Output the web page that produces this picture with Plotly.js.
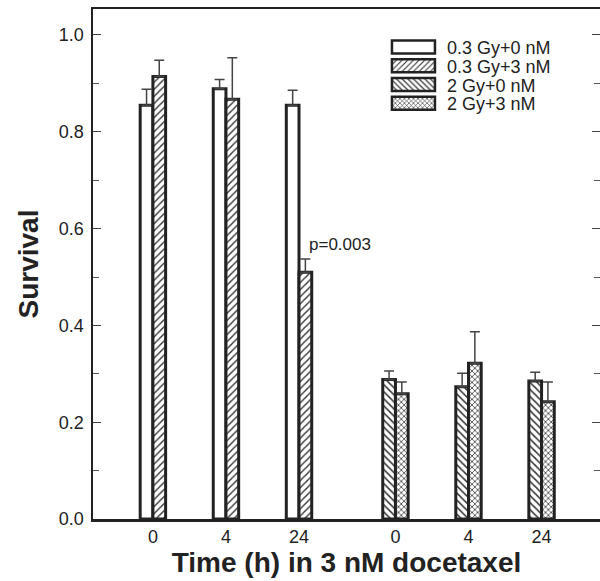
<!DOCTYPE html>
<html>
<head>
<meta charset="utf-8">
<script src="https://cdn.plot.ly/plotly-3.0.1.min.js"></script>
<style>html,body{margin:0;padding:0;background:#fff;}</style>
</head>
<body>
<div id="chart" style="width:600px;height:581px;"></div>
<script>
// Group positions on the time axis (two blocks of 0, 4, 24 h)
const groupPosA = [0, 1, 2];
const groupPosB = [3.32, 4.32, 5.32];
const tickLabels = ["0", "4", "24", "0", "4", "24"];

// Survival values and upper error bars
const s1Name = "0.3 Gy+0 nM";
const s1Vals = [0.855, 0.889, 0.855];
const s1Err  = [0.033, 0.019, 0.031];

const s2Name = "0.3 Gy+3 nM";
const s2Vals = [0.914, 0.867, 0.510];
const s2Err  = [0.034, 0.086, 0.027];

const s3Name = "2 Gy+0 nM";
const s3Vals = [0.288, 0.273, 0.285];
const s3Err  = [0.018, 0.028, 0.018];

const s4Name = "2 Gy+3 nM";
const s4Vals = [0.259, 0.322, 0.242];
const s4Err  = [0.024, 0.065, 0.041];

const barW = 0.174;
const ink = '#222';

function errY(arr){
  return {type:'data', array:arr, arrayminus:arr.map(()=>0), symmetric:false,
          visible:true, color:'#444', thickness:1.5, width:5};
}
function mk(name, x, y, err, off, pat){
  return {
    type:'bar', name:name, x:x, y:y, width:barW, offset:off,
    marker:{color:'#fff', line:{color:ink, width:3},
            pattern: pat ? {shape:pat.shape, size:pat.size, solidity:pat.solidity, fgcolor:'#333', bgcolor:'#fff', fillmode:'replace'} : undefined},
    error_y: errY(err),
    hoverinfo:'skip'
  };
}

const traces = [
  mk(s1Name, groupPosA, s1Vals, s1Err, -barW, null),
  mk(s2Name, groupPosA, s2Vals, s2Err, 0, {shape:'/', size:5, solidity:0.28}),
  mk(s3Name, groupPosB, s3Vals, s3Err, -barW, {shape:'\\', size:5, solidity:0.3}),
  mk(s4Name, groupPosB, s4Vals, s4Err, 0, {shape:'x', size:4, solidity:0.35})
];

const layout = {
  width:600, height:581,
  margin:{l:93, r:0, t:9, b:62},
  paper_bgcolor:'#fff', plot_bgcolor:'#fff',
  barmode:'overlay',
  font:{family:'"Liberation Sans", Arial, sans-serif', color:ink},
  showlegend:true,
  legend:{x:0.566, y:0.961, xanchor:'left', yanchor:'top', bgcolor:'rgba(0,0,0,0)',
          font:{size:18, color:ink}, itemwidth:57, tracegroupgap:0, traceorder:'normal'},
  xaxis:{
    range:[-0.82, 6.12], showgrid:false, zeroline:false,
    showline:true, linecolor:ink, linewidth:2.5, mirror:true,
    ticks:'', tickmode:'array',
    tickvals: groupPosA.concat(groupPosB), ticktext: tickLabels,
    tickfont:{size:18, color:ink},
    title:{text:'<b>Time (h) in 3 nM docetaxel</b>', font:{size:28, color:ink}, standoff:7}
  },
  yaxis:{
    range:[0, 1.0537], showgrid:false, zeroline:false,
    showline:true, linecolor:ink, linewidth:2.5, mirror:'ticks',
    ticks:'inside', ticklen:8, tickwidth:1, tickcolor:'#444',
    dtick:0.2, tick0:0, tickformat:'.1f',
    minor:{dtick:0.1, ticks:'inside', ticklen:6, tickwidth:1, tickcolor:'#555'},
    tickfont:{size:18, color:ink}, ticklabelstandoff:3,
    title:{text:'<b>Survival</b>', font:{size:28, color:ink}, standoff:12}
  },
  annotations:[
    {x:2.11, y:0.568, xref:'x', yref:'y', text:'p=0.003', showarrow:false,
     xanchor:'left', yanchor:'middle', font:{size:17, color:ink}}
  ]
};

Plotly.newPlot('chart', traces, layout, {staticPlot:true, displayModeBar:false}).then(function(gd){
  gd.querySelectorAll('.legend .legendpoints path').forEach(function(p){
    p.setAttribute('d','M21.5,6.5H-21.5V-6.5H21.5Z');
    p.style.strokeWidth = '2.5px';
  });
  // tighten legend row spacing to match the reference
  const items = gd.querySelectorAll('.legend .traces');
  let y0 = null;
  items.forEach(function(g, i){
    const m = /translate\(([-\d.]+),\s*([-\d.]+)\)/.exec(g.getAttribute('transform') || '');
    if(!m) return;
    if(y0 === null) y0 = parseFloat(m[2]);
    g.setAttribute('transform', 'translate(' + m[1] + ',' + (y0 + i*18.7) + ')');
  });
});
</script>
</body>
</html>
